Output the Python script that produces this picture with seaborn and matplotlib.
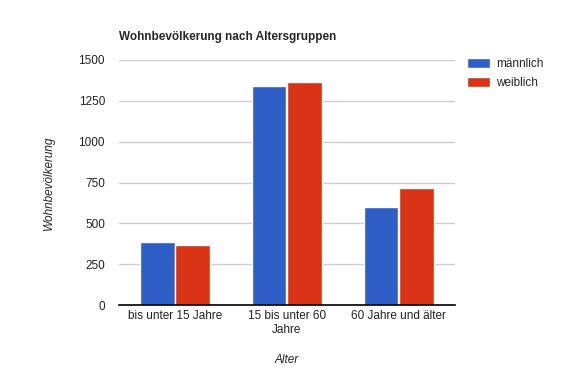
import pandas as pd
import seaborn as sns
import matplotlib.pyplot as plt

altersgruppen = ['bis unter 15 Jahre', '15 bis unter 60\nJahre', '60 Jahre und älter']
maennlich = [386, 1339, 600]
weiblich = [368, 1363, 716]

df = pd.DataFrame({
    'Alter': altersgruppen * 2,
    'Wert': maennlich + weiblich,
    'Geschlecht': ['männlich'] * 3 + ['weiblich'] * 3,
})

sns.set_style('white')
plt.rcParams['font.family'] = ['Liberation Sans', 'DejaVu Sans']

fig = plt.figure(figsize=(5.8, 3.86), dpi=100)
ax = fig.add_axes([0.205, 0.209, 0.579, 0.636])

sns.barplot(data=df, x='Alter', y='Wert', hue='Geschlecht',
            palette=['#2f5ec7', '#d93315'], width=0.63, gap=0.02,
            saturation=1, ax=ax)

ax.set_ylim(0, 1500)
ax.set_yticks([0, 250, 500, 750, 1000, 1250, 1500])
ax.yaxis.grid(True, color='#cccccc', linewidth=1)
ax.set_axisbelow(True)
for s in ['left', 'right', 'top']:
    ax.spines[s].set_visible(False)
ax.spines['bottom'].set_color('black')
ax.spines['bottom'].set_linewidth(1.2)
ax.tick_params(axis='both', length=0, labelsize=8.5, colors='#222222')
ax.tick_params(axis='y', pad=10)

ax.set_xlabel('Alter', style='italic', fontsize=8.5, labelpad=13)
ax.set_ylabel('Wohnbevölkerung', style='italic', fontsize=8.5, labelpad=17)
ax.set_title('Wohnbevölkerung nach Altersgruppen', fontweight='bold',
             fontsize=8.5, loc='left', pad=14)

ax.legend(loc='upper left', bbox_to_anchor=(1.036, 1.008), frameon=False,
          fontsize=8.5, borderpad=0, borderaxespad=0, handlelength=2.0,
          handleheight=0.95, handletextpad=0.45, labelspacing=0.6)

fig.savefig('out.png', dpi=100)
